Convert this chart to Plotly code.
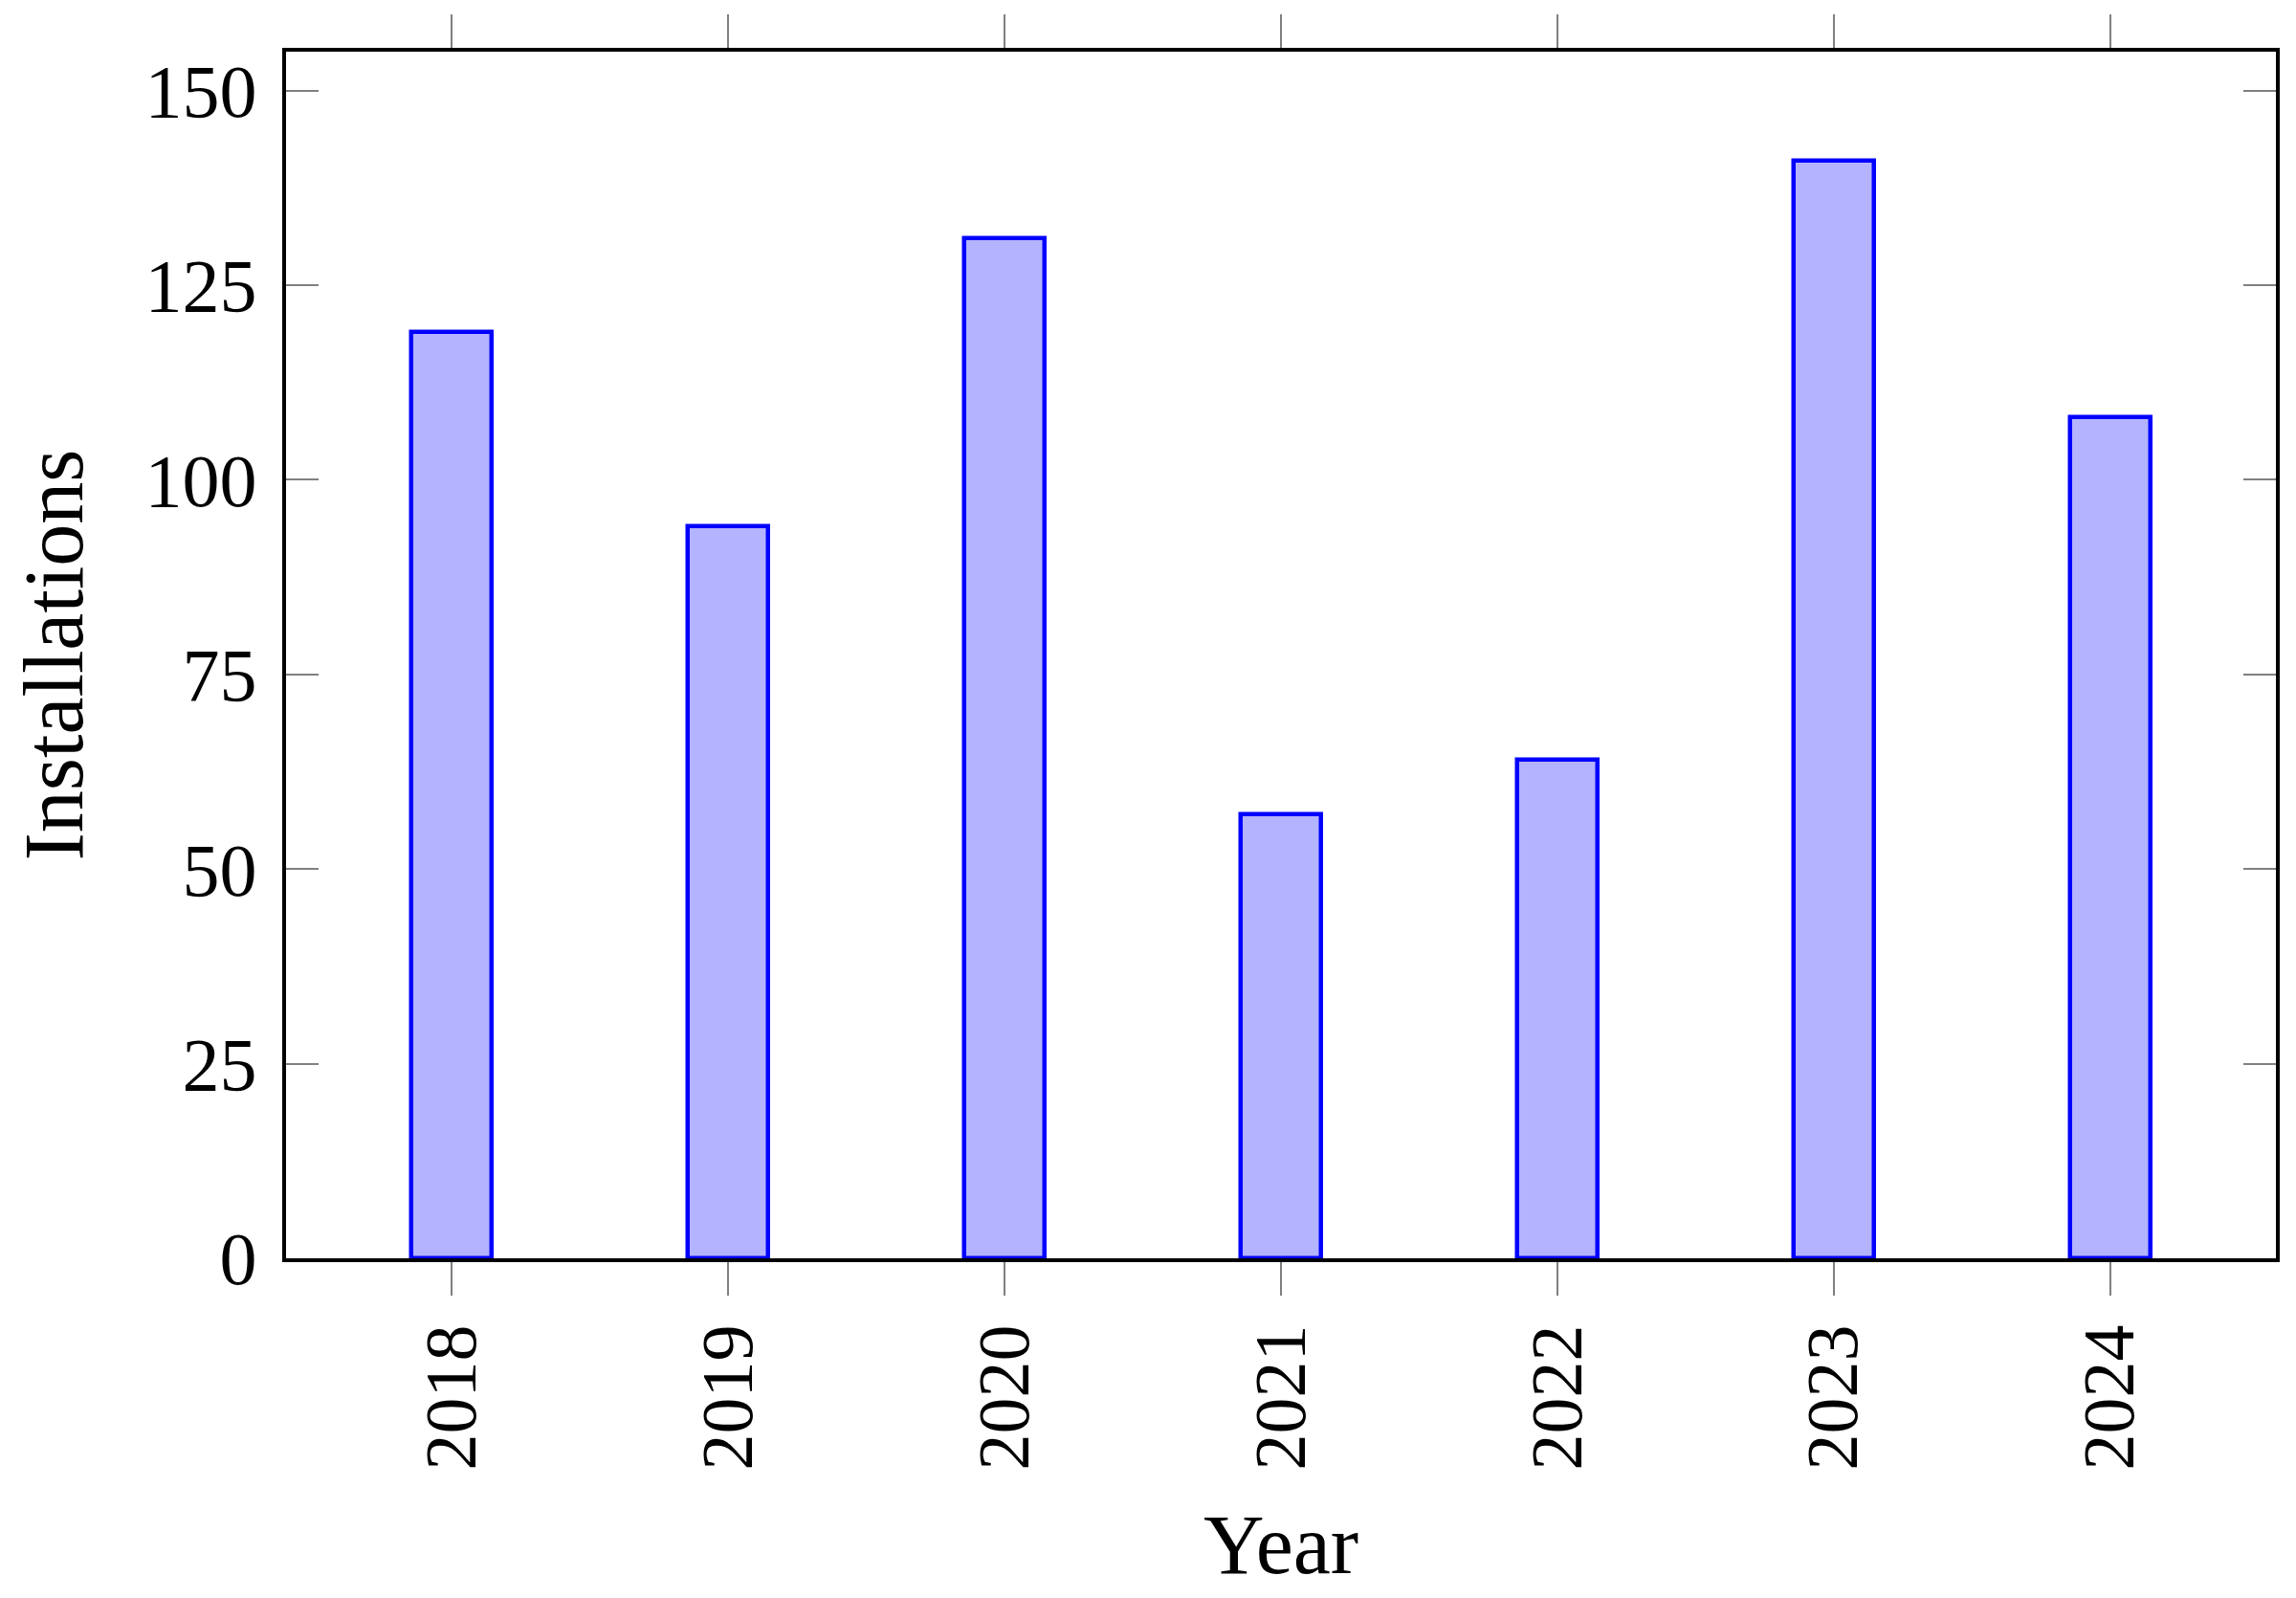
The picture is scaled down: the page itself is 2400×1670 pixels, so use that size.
import plotly.graph_objects as go

# Data
years = ["2018", "2019", "2020", "2021", "2022", "2023", "2024"]
installations = [119, 94, 131, 57, 64, 141, 108]
y_ticks = [0, 25, 50, 75, 100, 125, 150]

serif = "Liberation Serif, Times New Roman, serif"

fig = go.Figure()

fig.add_trace(go.Bar(
    x=years,
    y=installations,
    width=0.29,
    marker=dict(color="#B3B3FF", line=dict(color="#0000FF", width=4.5)),
    showlegend=False
))

fig.update_layout(
    width=2400,
    height=1670,
    paper_bgcolor="white",
    plot_bgcolor="white",
    margin=dict(l=291, r=29, t=46, b=363, autoexpand=False),
    font=dict(family=serif, color="black"),
    bargap=0,
)

fig.update_xaxes(
    type="category",
    range=[-0.6, 6.6],
    showgrid=False,
    showline=True, linecolor="black", linewidth=4, mirror="ticks",
    ticks="outside", ticklen=35, tickwidth=2, tickcolor="#808080",
    tickangle=-90,
    tickfont=dict(size=76, family=serif),
    ticklabelstandoff=0,
    title=dict(text="Year", font=dict(size=88, family=serif), standoff=48),
)

fig.update_yaxes(
    range=[0, 155],
    tickvals=y_ticks,
    showgrid=False, zeroline=False,
    showline=True, linecolor="black", linewidth=4, mirror="ticks",
    ticks="inside", ticklen=34, tickwidth=2, tickcolor="#808080",
    tickfont=dict(size=78, family=serif),
    ticklabelstandoff=11,
    title=dict(text="Installations", font=dict(size=88, family=serif), standoff=50),
)

fig.write_html("out.html")
